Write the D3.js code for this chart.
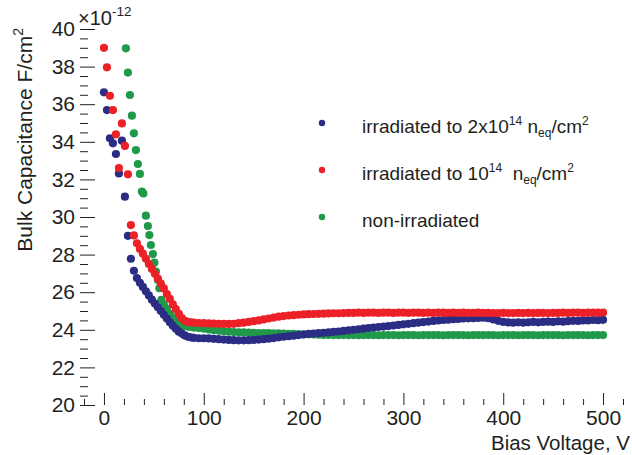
<!DOCTYPE html>
<html>
<head>
<meta charset="utf-8">
<script src="https://cdn.jsdelivr.net/npm/d3@7"></script>
<style>
   body { margin: 0; background: #fff; }
   svg { display: block; font-family: "Liberation Sans", Arial, Helvetica, sans-serif; }
</style>
</head>
<body>
<svg id="chart" width="632" height="455"></svg>
<script>
// tick labels
var xMajorTicks = [0, 100, 200, 300, 400, 500];
var yMajorTicks = [20, 22, 24, 26, 28, 30, 32, 34, 36, 38, 40];

// first readings, where the dots are still spread out (V, pF/cm2)
var blueEarlyV = [0, 3, 6, 9, 12, 15, 18, 21, 24, 27, 30, 33, 36, 39, 42, 45, 48, 51, 54, 57];
var blueEarlyC = [36.63, 35.69, 34.19, 33.92, 33.35, 32.32, 34.06, 31.08, 29.00, 27.78, 27.14, 26.75, 26.50, 26.28, 26.05, 25.83, 25.60, 25.40, 25.20, 25.00];
var redEarlyV = [0, 3, 6, 9, 12, 15, 18, 21, 24, 27, 30, 33, 36, 39, 42, 45, 48, 51, 54, 57];
var redEarlyC = [39.00, 37.96, 36.45, 35.69, 34.40, 32.60, 34.98, 33.78, 32.27, 29.57, 29.02, 28.60, 28.30, 28.05, 27.78, 27.50, 27.24, 26.98, 26.72, 26.46];
var greenEarlyV = [22, 24, 26, 28, 30, 32, 34, 36, 38, 39.5, 42, 44, 45.5, 47, 49, 50.5, 52, 54, 55.5, 57.5];
var greenEarlyC = [38.97, 37.68, 36.49, 35.39, 34.45, 33.56, 32.82, 32.29, 31.35, 31.25, 30.07, 29.52, 29.04, 28.51, 28.03, 27.57, 27.09, 26.65, 26.21, 25.59];

// the rest of the scan, shared voltages
var biasGrid = [60, 63, 66, 69, 72, 75, 78, 81, 84, 87, 90,
   95, 100, 105, 110, 115, 120, 125, 130, 135, 140, 145, 150, 155, 160, 165, 170, 175, 180, 185, 190, 195, 200,
   205, 210, 215, 220, 225, 230, 235, 240, 245, 250, 255, 260, 265, 270, 275, 280, 285, 290, 295, 300,
   305, 310, 315, 320, 325, 330, 335, 340, 345, 350, 355, 360, 365, 370, 375, 380, 385, 390, 395, 400,
   405, 410, 415, 420, 425, 430, 435, 440, 445, 450, 455, 460, 465, 470, 475, 480, 485, 490, 495, 500];

var blueC = [24.80, 24.60, 24.40, 24.22, 24.05, 23.90, 23.80, 23.70, 23.63, 23.60, 23.57,
   23.55, 23.55, 23.54, 23.52, 23.50, 23.48, 23.46, 23.45, 23.44, 23.44, 23.45, 23.46, 23.48, 23.50, 23.53, 23.56, 23.60, 23.63, 23.66, 23.69, 23.72, 23.75,
   23.78, 23.80, 23.82, 23.84, 23.86, 23.89, 23.91, 23.94, 23.97, 24.00, 24.03, 24.06, 24.09, 24.12, 24.15, 24.17, 24.20, 24.23, 24.26, 24.29,
   24.32, 24.35, 24.38, 24.41, 24.44, 24.47, 24.50, 24.52, 24.54, 24.56, 24.58, 24.60, 24.61, 24.62, 24.63, 24.64, 24.62, 24.55, 24.48, 24.42,
   24.39, 24.38, 24.40, 24.38, 24.40, 24.42, 24.40, 24.42, 24.43, 24.42, 24.45, 24.43, 24.46, 24.48, 24.47, 24.50, 24.50, 24.52, 24.51, 24.53];

var redC = [26.20, 25.90, 25.65, 25.35, 25.10, 24.85, 24.62, 24.48, 24.42, 24.40, 24.38,
   24.36, 24.35, 24.34, 24.33, 24.32, 24.31, 24.31, 24.32, 24.35, 24.38, 24.42, 24.46, 24.50, 24.55, 24.60, 24.65, 24.70, 24.73, 24.76, 24.78, 24.80, 24.82,
   24.83, 24.84, 24.85, 24.86, 24.87, 24.88, 24.88, 24.89, 24.90, 24.90, 24.91, 24.90, 24.91, 24.91, 24.90, 24.91, 24.91, 24.90, 24.91, 24.91,
   24.90, 24.91, 24.91, 24.90, 24.91, 24.90, 24.91, 24.91, 24.90, 24.91, 24.90, 24.91, 24.90, 24.90, 24.91, 24.90, 24.90, 24.89, 24.89, 24.90,
   24.89, 24.89, 24.90, 24.89, 24.90, 24.89, 24.90, 24.90, 24.89, 24.90, 24.90, 24.91, 24.90, 24.91, 24.91, 24.90, 24.91, 24.92, 24.91, 24.92];

var greenC = [25.35, 25.10, 24.85, 24.65, 24.50, 24.35, 24.25, 24.20, 24.17, 24.15, 24.12,
   24.10, 24.06, 24.02, 23.98, 23.95, 23.92, 23.90, 23.88, 23.87, 23.86, 23.85, 23.84, 23.83, 23.82, 23.82, 23.81, 23.81, 23.80, 23.79, 23.78, 23.77, 23.76,
   23.76, 23.75, 23.74, 23.73, 23.73, 23.72, 23.72, 23.72, 23.72, 23.72, 23.71, 23.72, 23.72, 23.72, 23.71, 23.72, 23.72, 23.72, 23.71, 23.72,
   23.72, 23.72, 23.71, 23.72, 23.72, 23.72, 23.72, 23.71, 23.72, 23.72, 23.72, 23.72, 23.71, 23.72, 23.72, 23.72, 23.72, 23.72, 23.71, 23.72,
   23.72, 23.72, 23.71, 23.72, 23.72, 23.72, 23.71, 23.72, 23.72, 23.72, 23.72, 23.71, 23.72, 23.72, 23.72, 23.72, 23.71, 23.72, 23.72, 23.72];

// legend labels: plain text, sup = superscript, sub = subscript
var legendLabels = [
   [['irradiated to 2x10', ''], ['14', 'sup'], [' n', ''], ['eq', 'sub'], ['/cm', ''], ['2', 'sup']],
   [['irradiated to 10', ''], ['14', 'sup'], ['\u00a0\u00a0n', ''], ['eq', 'sub'], ['/cm', ''], ['2', 'sup']],
   [['non-irradiated', '']]
];

var seriesColors = ['#2b2d84', '#ec2027', '#20994a'];

var ink = '#231f20';
var svg = d3.select('#chart');

var x = d3.scaleLinear().domain([-24, 523]).range([80, 626]);
var y = d3.scaleLinear().domain([20, 40]).range([405, 29]);

var left = x.range()[0], right = x.range()[1], top = y.range()[1], bottom = y.range()[0];

function points(vs, cs) {
   return vs.map(function (v, i) {
      return {v: v, c: cs[i]};
   });
}

var series = [
   points(blueEarlyV, blueEarlyC).concat(points(biasGrid, blueC)),
   points(redEarlyV, redEarlyC).concat(points(biasGrid, redC)),
   points(greenEarlyV, greenEarlyC).concat(points(biasGrid, greenC))
];

// axes: major ticks with labels, minor ticks without
svg.append('g')
   .attr('transform', 'translate(0,' + bottom + ')')
   .call(d3.axisBottom(x).tickValues(xMajorTicks).tickSize(-12).tickPadding(5).tickFormat(d3.format('d')));
svg.append('g')
   .attr('transform', 'translate(0,' + bottom + ')')
   .call(d3.axisBottom(x).tickValues(x.ticks(25).filter(function (v) { return v % 100 !== 0; })).tickSize(-6).tickFormat(''));

svg.append('g')
   .attr('transform', 'translate(' + left + ',0)')
   .call(d3.axisLeft(y).tickValues(yMajorTicks).tickSize(-15).tickPadding(5).tickFormat(d3.format('d')));
svg.append('g')
   .attr('transform', 'translate(' + left + ',0)')
   .call(d3.axisLeft(y).tickValues(y.ticks(40).filter(function (v) { return v % 2 !== 0; })).tickSize(-8).tickFormat(''));

svg.selectAll('.domain').remove();
svg.selectAll('.tick line').attr('stroke', ink).attr('stroke-width', 1);
svg.selectAll('.tick text')
   .attr('fill', ink)
   .attr('font-size', 21)
   .attr('font-family', '"Liberation Sans", Arial, sans-serif');

svg.append('rect')
   .attr('x', left)
   .attr('y', top)
   .attr('width', right - left)
   .attr('height', bottom - top)
   .attr('fill', 'none')
   .attr('stroke', ink)
   .attr('stroke-width', 1.3);

// exponent of the y axis
var expo = svg.append('text')
   .attr('x', 78)
   .attr('y', 25)
   .attr('fill', ink)
   .attr('font-size', 20)
   .text('\u00d710');
expo.append('tspan').attr('font-size', 13.5).attr('dy', -9).text('-12');

// axis titles
svg.append('text')
   .attr('x', 630)
   .attr('y', 449.5)
   .attr('text-anchor', 'end')
   .attr('fill', ink)
   .attr('font-size', 20.5)
   .text('Bias Voltage, V');

var yTitle = svg.append('text')
   .attr('transform', 'translate(32,28) rotate(-90)')
   .attr('text-anchor', 'end')
   .attr('fill', ink)
   .attr('font-size', 21)
   .text('Bulk Capacitance F/cm');
yTitle.append('tspan').attr('font-size', 14).attr('dy', -9).text('2');

// data: non-irradiated underneath, then 2e14, then 1e14 on top
var drawOrder = [2, 0, 1];
var plot = svg.append('g');
drawOrder.forEach(function (k) {
   plot.append('g')
      .attr('fill', seriesColors[k])
      .selectAll('circle')
      .data(series[k])
      .enter().append('circle')
      .attr('cx', function (d) { return x(d.v); })
      .attr('cy', function (d) { return y(d.c); })
      .attr('r', 4.1);
});

// legend
var legend = svg.append('g');
legendLabels.forEach(function (parts, i) {
   var rowY = 123 + i * 47;

   legend.append('circle')
      .attr('cx', 322)
      .attr('cy', rowY)
      .attr('r', 3.2)
      .attr('fill', seriesColors[i]);

   var label = legend.append('text')
      .attr('x', 362)
      .attr('y', rowY + 10)
      .attr('fill', ink)
      .attr('font-size', 19);

   var shift = 0;
   parts.forEach(function (p) {
      var target = p[1] === 'sup' ? -8 : (p[1] === 'sub' ? 4 : 0);
      label.append('tspan')
         .attr('dy', target - shift)
         .attr('font-size', p[1] ? 12 : 19)
         .text(p[0]);
      shift = target;
   });
});
</script>
</body>
</html>
